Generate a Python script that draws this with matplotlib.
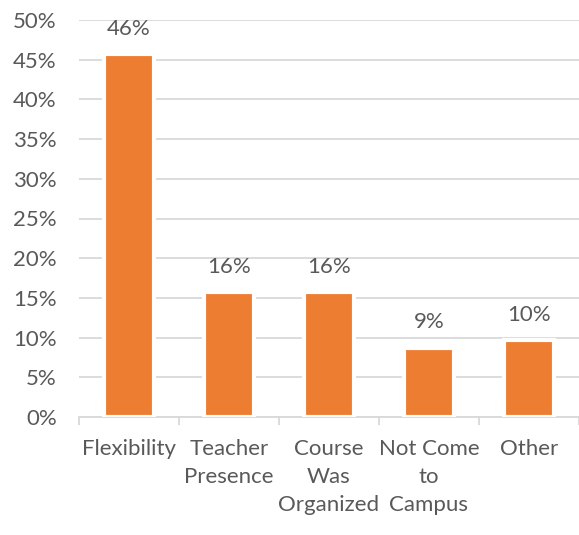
import matplotlib
matplotlib.use("Agg")
import matplotlib.pyplot as plt
import numpy as np

# dados
categorias = ["Flexibility", "Teacher\nPresence", "Course\nWas\nOrganized", "Not Come\nto\nCampus", "Other"]
valores = [0.457, 0.157, 0.157, 0.087, 0.097]
rotulos = ["46%", "16%", "16%", "9%", "10%"]
yticks = [0, 0.05, 0.10, 0.15, 0.20, 0.25, 0.30, 0.35, 0.40, 0.45, 0.50]

laranja = "#ED7D31"
cinza_txt = "#595959"
cinza_grade = "#D9D9D9"

plt.rcParams['font.family'] = ['Lato', 'DejaVu Sans']

fig = plt.figure(figsize=(5.79, 5.35), dpi=100)
ax = fig.add_axes([79/579, 118/535, 500/579, 397/535])

x = np.arange(len(categorias))
ax.bar(x, valores, width=0.5, color=laranja, edgecolor="white", linewidth=3, zorder=3)

for i, v in enumerate(valores):
    ax.annotate(rotulos[i], (x[i], v), xytext=(0, 14), textcoords="offset points",
                ha="center", va="baseline", fontsize=16, color=cinza_txt)

ax.set_xlim(-0.5, len(categorias) - 0.5)
ax.set_ylim(0, 0.5)
ax.set_yticks(yticks)
ax.set_yticklabels([f"{int(round(t*100))}%" for t in yticks])
ax.yaxis.grid(True, color=cinza_grade, linewidth=1.3, zorder=0)
ax.set_axisbelow(True)

ax.set_xticks(x)
ax.set_xticklabels(categorias, linespacing=1.5, va="top")
ax.set_xticks(np.arange(-0.5, len(categorias)), minor=True)
ax.tick_params(axis="x", which="major", length=0, pad=16, labelsize=16, labelcolor=cinza_txt)
ax.tick_params(axis="x", which="minor", length=5.5, width=1.3, color=cinza_grade)
ax.tick_params(axis="y", length=0, pad=16, labelsize=16, labelcolor=cinza_txt)

for lado in ["top", "right", "left"]:
    ax.spines[lado].set_visible(False)
ax.spines["bottom"].set_color(cinza_grade)
ax.spines["bottom"].set_linewidth(1.3)

fig.savefig("out.png", dpi=100)
